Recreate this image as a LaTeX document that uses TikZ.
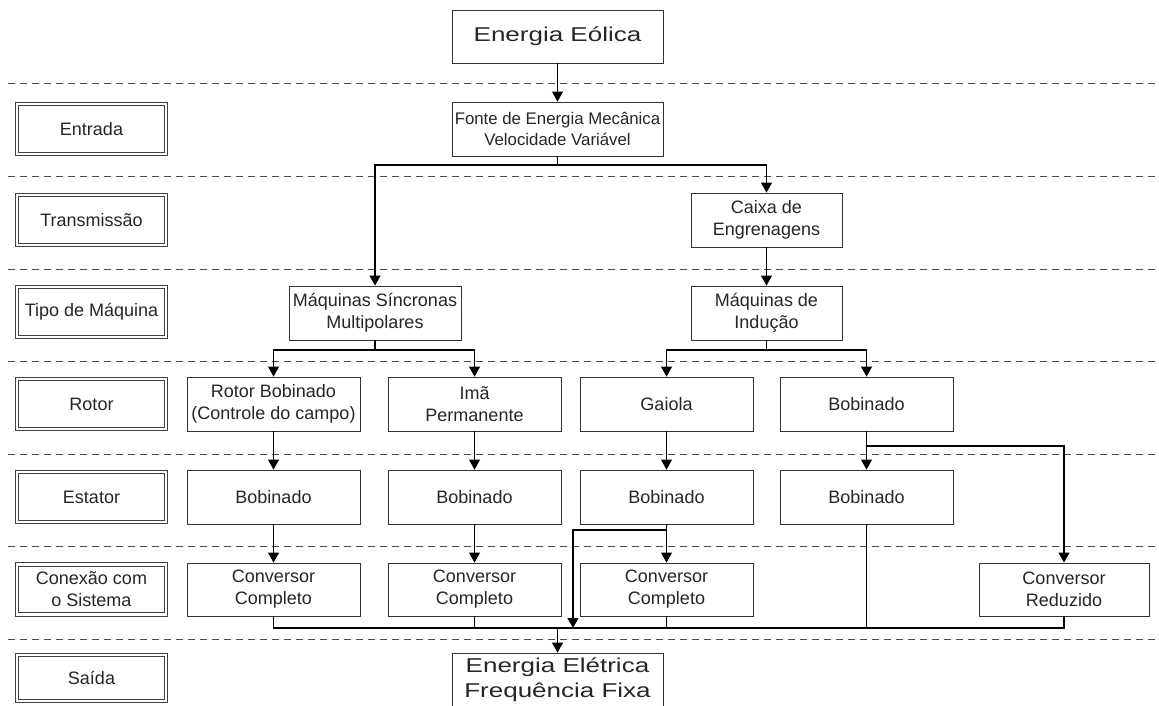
\documentclass[tikz,border=0pt]{standalone}
\usepackage{fontspec}
\setmainfont{Liberation Sans}
\newfontfamily\widefont[FakeStretch=1.3]{Liberation Sans}
\usetikzlibrary{arrows.meta}
\begin{document}
\begin{tikzpicture}[x=1pt,y=-1pt,
  box/.style={draw=black!80, line width=0.9pt, fill=white, inner sep=0pt, align=center,
    text=black!85, font=\fontsize{18}{22}\selectfont},
  bigbox/.style={box, font=\widefont\fontsize{20}{25}\selectfont},
  lab/.style={draw=black!75, double=white, double distance=2.6pt, line width=0.8pt, inner sep=0pt,
    align=center, minimum width=149pt, minimum height=50pt, text=black!85,
    font=\fontsize{18}{22}\selectfont},
  sep/.style={draw=black!70, line width=0.9pt, dash pattern=on 7pt off 5pt},
  conn/.style={draw=black, line width=1.1pt},
  arr/.style={conn, -{Triangle[length=10pt,width=11pt]}},
  rw/.style={minimum width=173pt, minimum height=54pt},
  ]
\useasboundingbox (0,0) rectangle (1159,705);

% separators
\foreach \yy in {83,176,269,361,454,546,639}
  \draw[sep] (8,\yy) -- (1155,\yy);

% level labels
\node[lab] (lEnt) at (91.5,129) {Entrada};
\node[lab] (lTra) at (91.5,220) {Transmissão};
\node[lab] (lTip) at (91.5,312) {Tipo de Máquina};
\node[lab] (lRot) at (91.5,404) {Rotor};
\node[lab] (lEst) at (91.5,497) {Estator};
\node[lab] (lCon) at (91.5,589.5) {Conexão com\\o Sistema};
\node[lab, minimum height=46pt] (lSai) at (91.5,678) {Saída};

% main nodes
\node[bigbox, minimum width=211pt, minimum height=53pt] (ee) at (557.5,36.5) {Energia Eólica};
\node[box, minimum width=211pt, minimum height=54pt, font=\fontsize{16.8}{20.5}\selectfont] (fonte) at (557.5,129) {Fonte de Energia Mecânica\\Velocidade Variável};
\node[box, minimum width=151pt, minimum height=54pt] (caixa) at (766.5,220) {Caixa de\\Engrenagens};
\node[box, minimum width=172pt, minimum height=54pt] (ms) at (375,313) {Máquinas Síncronas\\Multipolares};
\node[box, minimum width=151pt, minimum height=54pt] (mi) at (766.5,313) {Máquinas de\\Indução};

\node[box, rw] (r1) at (273.5,404) {Rotor Bobinado\\(Controle do campo)};
\node[box, rw] (r2) at (474.5,404) {Imã\\Permanente};
\node[box, rw] (r3) at (666.5,404) {Gaiola};
\node[box, rw] (r4) at (866.5,404) {Bobinado};

\node[box, rw] (s1) at (273.5,497) {Bobinado};
\node[box, rw] (s2) at (474.5,497) {Bobinado};
\node[box, rw] (s3) at (666.5,497) {Bobinado};
\node[box, rw] (s4) at (866.5,497) {Bobinado};

\node[box, rw, minimum height=53pt] (c1) at (273.5,589.5) {Conversor\\Completo};
\node[box, rw, minimum height=53pt] (c2) at (474.5,589.5) {Conversor\\Completo};
\node[box, rw, minimum height=53pt] (c3) at (666.5,589.5) {Conversor\\Completo};
\node[box, minimum width=170pt, minimum height=53pt] (c4) at (1064,589.5) {Conversor\\Reduzido};

\node[bigbox, minimum width=211pt, minimum height=54pt] (out) at (557.5,680) {Energia Elétrica\\Frequência Fixa};

% junction coordinates
\coordinate (j1) at (557.5,165);
\coordinate (j2) at (375,350);
\coordinate (j3) at (766.5,350);
\coordinate (j4) at (866.5,446);
\coordinate (j5) at (666.5,530);
\coordinate (k5) at (573,530);
\coordinate (b5) at (573,628);
\coordinate (busL) at (273.5,628);
\coordinate (busR) at (1064,628);
\coordinate (busO) at (557.5,628);

% connectors
\draw[arr] (ee) -- (fonte);
\draw[conn] (fonte) -- (j1);
\draw[arr] (j1) -| (ms.north);
\draw[arr] (j1) -| (caixa.north);
\draw[arr] (caixa) -- (mi);

\draw[conn] (ms) -- (j2);
\draw[arr] (j2) -| (r1.north);
\draw[arr] (j2) -| (r2.north);
\draw[conn] (mi) -- (j3);
\draw[arr] (j3) -| (r3.north);
\draw[arr] (j3) -| (r4.north);

\draw[arr] (r1) -- (s1);
\draw[arr] (r2) -- (s2);
\draw[arr] (r3) -- (s3);
\draw[arr] (r4) -- (s4);
\draw[arr] (j4) -| (c4.north);

\draw[arr] (s1) -- (c1);
\draw[arr] (s2) -- (c2);
\draw[arr] (s3) -- (c3);
\draw[arr] (j5) -- (k5) -- (b5);

\draw[conn] (c1.south) -- (busL) -- (busR) -- (c4.south);
\draw[conn] (c2.south) -- (c2.south |- busL);
\draw[conn] (c3.south) -- (c3.south |- busL);
\draw[conn] (s4.south) -- (s4.south |- busL);
\draw[arr] (busO) -- (out);
\end{tikzpicture}
\end{document}
